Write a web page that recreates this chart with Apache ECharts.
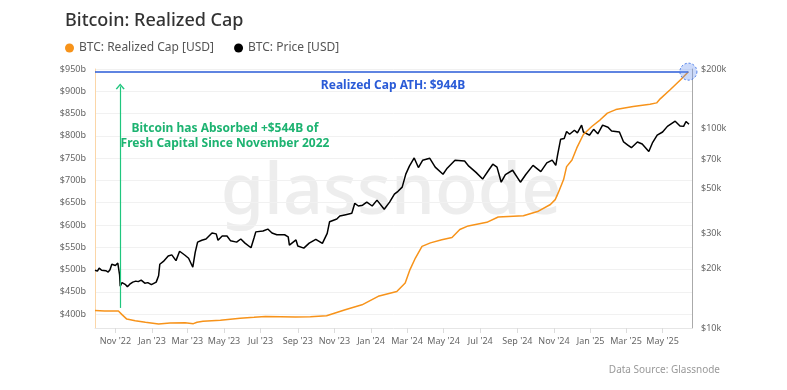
<!DOCTYPE html>
<html>
<head>
<meta charset="utf-8">
<script src="https://cdn.jsdelivr.net/npm/echarts@6/dist/echarts.min.js"></script>
<style>
html,body{margin:0;padding:0;background:#fff;}
#c{width:787px;height:390px;}
</style>
</head>
<body>
<div id="c"></div>
<script>
// ---- Data ----
const rcDates = ['2022-09-28','2022-10-14','2022-11-06','2022-11-12','2022-11-20','2022-12-04','2022-12-21','2023-01-12','2023-01-31','2023-02-25','2023-03-11','2023-03-17','2023-03-27','2023-04-25','2023-05-28','2023-06-20','2023-07-09','2023-08-03','2023-08-28','2023-09-22','2023-10-19','2023-11-19','2023-12-17','2024-01-13','2024-02-13','2024-02-27','2024-03-06','2024-03-15','2024-03-26','2024-04-09','2024-04-28','2024-05-15','2024-05-28','2024-06-11','2024-07-12','2024-07-31','2024-09-11','2024-10-06','2024-10-26','2024-11-03','2024-11-08','2024-11-17','2024-11-22','2024-12-01','2024-12-09','2024-12-20','2025-01-03','2025-01-17','2025-01-29','2025-02-12','2025-03-13','2025-04-10','2025-04-21','2025-04-27','2025-05-14','2025-05-31','2025-06-13'];
const rcValues = [408,407,407,399,389,385.5,382,378,380,381,378.7,382,384,386.5,391,393,395,394.5,393.7,394.5,396.6,410,421,440,451,470,500,526,552,560,567,572,590,598,606,618,621,631,646,657,672,702,731,746,773,803,821,836,851,859,866,871,874,883,904,926,944];

const priceDates = ['2022-09-28','2022-10-02','2022-10-05','2022-10-09','2022-10-12','2022-10-16','2022-10-20','2022-10-23','2022-10-26','2022-11-01','2022-11-05','2022-11-08','2022-11-09','2022-11-12','2022-11-15','2022-11-18','2022-11-21','2022-11-25','2022-11-30','2022-12-05','2022-12-09','2022-12-14','2022-12-20','2022-12-25','2022-12-31','2023-01-08','2023-01-12','2023-01-14','2023-01-20','2023-01-28','2023-02-03','2023-02-10','2023-02-16','2023-02-25','2023-03-03','2023-03-10','2023-03-14','2023-03-18','2023-03-25','2023-04-01','2023-04-11','2023-04-18','2023-04-21','2023-04-28','2023-05-06','2023-05-12','2023-05-22','2023-05-29','2023-06-05','2023-06-15','2023-06-20','2023-06-23','2023-07-05','2023-07-13','2023-07-20','2023-07-28','2023-08-10','2023-08-16','2023-08-18','2023-08-29','2023-09-01','2023-09-11','2023-09-20','2023-10-01','2023-10-12','2023-10-20','2023-10-24','2023-11-05','2023-11-10','2023-11-20','2023-11-30','2023-12-05','2023-12-11','2023-12-18','2023-12-25','2024-01-03','2024-01-11','2024-01-23','2024-02-01','2024-02-09','2024-02-15','2024-02-22','2024-02-28','2024-03-05','2024-03-13','2024-03-20','2024-03-27','2024-04-08','2024-04-17','2024-04-30','2024-05-07','2024-05-20','2024-06-05','2024-06-12','2024-06-24','2024-07-05','2024-07-15','2024-07-22','2024-07-29','2024-08-05','2024-08-12','2024-08-24','2024-09-06','2024-09-15','2024-09-27','2024-10-10','2024-10-20','2024-10-29','2024-11-04','2024-11-07','2024-11-12','2024-11-18','2024-11-22','2024-11-27','2024-12-05','2024-12-10','2024-12-17','2024-12-20','2024-12-30','2025-01-06','2025-01-13','2025-01-21','2025-01-30','2025-02-05','2025-02-18','2025-02-25','2025-03-04','2025-03-10','2025-03-20','2025-03-28','2025-04-08','2025-04-14','2025-04-22','2025-05-01','2025-05-09','2025-05-22','2025-05-30','2025-06-05','2025-06-09','2025-06-14'];
const priceValues = [19500,19300,20000,19500,19200,19400,19100,19600,20900,20600,21200,18500,16200,16900,16800,16500,16100,16600,17000,17200,17100,17400,16800,16900,16500,17000,18300,20900,21600,23000,23300,21800,24300,23200,22400,20200,24000,27000,27600,28000,30000,29700,27600,29000,29000,27400,27000,28000,26700,25300,28300,30400,30700,31400,30000,29400,29400,28700,26100,27700,25800,25200,26700,27900,26600,29900,34200,35300,36500,37100,37700,42300,41000,41400,42900,41000,43900,39500,42900,47000,48600,51000,59300,65000,71500,64000,69600,71200,64300,59200,63500,69600,69000,65000,60500,56000,62000,66500,64300,54000,59000,62000,54000,59000,65600,61000,67500,69700,65600,74000,88700,89500,97000,94000,98500,95600,104500,96500,93000,99500,94500,104500,102000,97500,96500,86000,83000,80500,86000,84000,77000,85000,93000,96500,103000,109300,103500,103000,109000,105500];

const xTickDates = ['2022-11-01','2023-01-01','2023-03-01','2023-05-01','2023-07-01','2023-09-01','2023-11-01','2024-01-01','2024-03-01','2024-05-01','2024-07-01','2024-09-01','2024-11-01','2025-01-01','2025-03-01','2025-05-01'];
const xTickLabels = ["Nov '22","Jan '23","Mar '23","May '23","Jul '23","Sep '23","Nov '23","Jan '24","Mar '24","May '24","Jul '24","Sep '24","Nov '24","Jan '25","Mar '25","May '25"];
const leftTicks = [400,450,500,550,600,650,700,750,800,850,900,950];
const rightTicks = [10000,20000,30000,50000,70000,100000,200000];

const xStart = '2022-09-28';
const xEnd = '2025-06-19';
const athValue = 944;
const athDate = '2025-06-13';
const arrowDate = '2022-11-09';
const arrowFrom = 414;
const arrowTo = 911;

const FONT = 'Noto Sans';
const T = d => Date.UTC(+d.slice(0, 4), +d.slice(5, 7) - 1, +d.slice(8, 10));
const xTickTimes = xTickDates.map(T);

const chart = echarts.init(document.getElementById('c'), null, {renderer: 'canvas'});

chart.setOption({
  animation: false,
  backgroundColor: '#fff',
  textStyle: {fontFamily: FONT},
  title: {
    text: 'Bitcoin: Realized Cap',
    left: 60, top: 7,
    textStyle: {fontSize: 18, fontWeight: 500, color: '#333', fontFamily: FONT}
  },
  legend: {
    data: ['BTC: Realized Cap [USD]', 'BTC: Price [USD]'],
    left: 60, top: 37,
    icon: 'circle', itemWidth: 9, itemHeight: 9, itemGap: 20,
    textStyle: {fontSize: 12, color: '#555', fontFamily: FONT}
  },
  grid: {left: 95, right: 95, top: 69, bottom: 62},
  xAxis: {
    type: 'value',
    min: T(xStart), max: T(xEnd),
    axisLine: {show: true, lineStyle: {color: '#e6e6e6'}},
    axisTick: {show: true, length: 5, lineStyle: {color: '#dcdcdc'}, customValues: xTickTimes},
    axisLabel: {
      customValues: xTickTimes,
      fontSize: 9, color: '#666', margin: 9,
      formatter: function (v) {
        let best = 0, bd = Infinity;
        xTickTimes.forEach((tt, i) => { const d = Math.abs(tt - v); if (d < bd) { bd = d; best = i; } });
        return xTickLabels[best];
      }
    },
    splitLine: {show: false}
  },
  yAxis: [
    {
      type: 'value', position: 'left',
      min: 369, max: 950,
      axisLine: {show: true, lineStyle: {color: '#fbd6a8', width: 1}},
      axisTick: {show: false, customValues: leftTicks},
      axisLabel: {customValues: leftTicks, fontSize: 9, color: '#666', margin: 9, formatter: v => '$' + v + 'b'},
      splitLine: {show: true, lineStyle: {color: '#f1f1f1'}}
    },
    {
      type: 'log', position: 'right', logBase: 10,
      min: 10000, max: 200000,
      axisLine: {show: true, lineStyle: {color: '#aaaaaa', width: 1}},
      axisTick: {show: false},
      axisLabel: {customValues: rightTicks, fontSize: 9, color: '#666', margin: 9, formatter: v => '$' + Math.round(v / 1000) + 'k'},
      splitLine: {show: false}
    }
  ],
  graphic: [
    {type: 'text', z: 0, silent: true, x: 391, y: 194,
      style: {text: 'glassnode', font: '500 70px "Noto Sans"', fill: '#ededed', textAlign: 'center', textVerticalAlign: 'middle'}},
    {type: 'text', z: 10, x: 225, y: 136,
      style: {text: 'Bitcoin has Absorbed +$544B of\nFresh Capital Since November 2022', font: 'bold 12px "Noto Sans"', lineHeight: 15, fill: '#1db371', textAlign: 'center', textVerticalAlign: 'middle'}},
    {type: 'text', z: 10, x: 393, y: 86,
      style: {text: 'Realized Cap ATH: $944B', font: 'bold 12px "Noto Sans"', fill: '#2a5bd7', textAlign: 'center', textVerticalAlign: 'middle'}},
    {type: 'text', z: 10, x: 720, y: 370,
      style: {text: 'Data Source: Glassnode', font: '10px "Noto Sans"', fill: '#999', textAlign: 'right', textVerticalAlign: 'middle'}}
  ],
  series: [
    {
      name: 'BTC: Realized Cap [USD]',
      type: 'line', yAxisIndex: 0, showSymbol: false, symbol: 'none',
      color: '#f7931a',
      lineStyle: {width: 1.5, color: '#f7931a'},
      data: rcDates.map((d, i) => [T(d), rcValues[i]]),
      z: 3,
      markLine: {
        silent: true, symbol: ['none', 'none'],
        label: {show: false},
        data: [
          [{coord: [T(xStart), athValue], lineStyle: {color: '#2a5bd7', width: 1.5, type: 'solid'}},
           {coord: [T(athDate), athValue], lineStyle: {color: '#2a5bd7', width: 1.5, type: 'solid'}}],
          [{coord: [T(arrowDate), arrowFrom], symbol: 'none', lineStyle: {color: '#1fc67e', width: 1.2, type: 'solid'}},
           {coord: [T(arrowDate), arrowTo], symbol: 'path://M0,6 L5,0 L10,6 L8.6,6.8 L5,2.4 L1.4,6.8 Z', symbolSize: [9, 6], lineStyle: {color: '#1fc67e', width: 1.2, type: 'solid'}}]
        ]
      },
      markPoint: {
        silent: true,
        data: [{coord: [T(athDate), athValue], symbol: 'circle', symbolSize: 17,
          itemStyle: {color: 'rgba(110,150,240,0.35)', borderColor: '#3f74ea', borderWidth: 1, borderType: [2, 2]},
          label: {show: false}}]
      }
    },
    {
      name: 'BTC: Price [USD]',
      type: 'line', yAxisIndex: 1, showSymbol: false, symbol: 'none',
      color: '#000',
      lineStyle: {width: 1.5, color: '#000'},
      data: priceDates.map((d, i) => [T(d), priceValues[i]]),
      z: 2
    }
  ]
});
</script>
</body>
</html>
